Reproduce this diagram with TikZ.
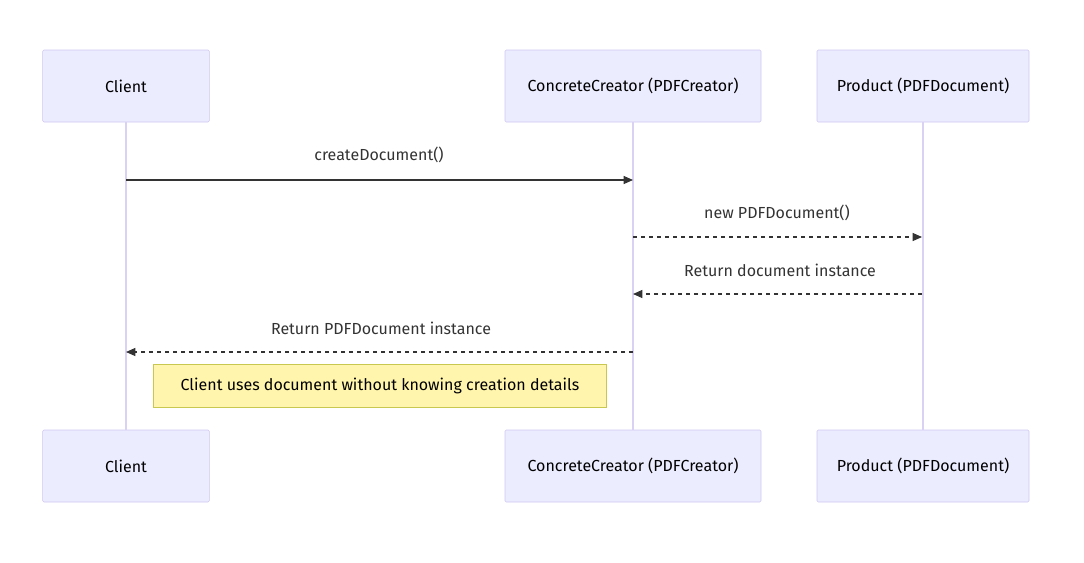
\documentclass[tikz,border=0pt]{standalone}
\usepackage{fontspec}
\setmainfont{Fira Sans}
\usetikzlibrary{arrows.meta,patterns}
\definecolor{actfill}{HTML}{ECECFF}
\definecolor{actline}{HTML}{CFC6F2}
\definecolor{lifeline}{HTML}{D9D2F5}
\definecolor{notefill}{HTML}{FFF5AD}
\definecolor{noteline}{HTML}{C8C850}
\definecolor{msgline}{HTML}{333333}
\tikzset{
	actor/.style={draw=actline, fill=actfill, minimum height=54pt, rounded corners=1pt, font=\fontsize{12}{14}\selectfont},
	life/.style={draw=lifeline, line width=1.5pt},
	msg/.style={draw=msgline, line width=0.8pt, -{Triangle[length=7pt,width=6pt]}},
	reply/.style={msg, dashed},
	lbl/.style={font=\fontsize{12}{14}\selectfont, text=msgline},
	note/.style={draw=noteline, fill=notefill, font=\fontsize{12}{14}\selectfont, minimum height=32pt}
}
\begin{document}
\begin{tikzpicture}[x=0.75pt, y=-0.75pt]
		\useasboundingbox (0,0) rectangle (1084,562);
		
		% participants
		\node[actor, minimum width=125pt] (ct) at (126,86) {Client};
		\node[actor, minimum width=192pt] (cc) at (633,86) {ConcreteCreator (PDFCreator)};
		\node[actor, minimum width=159pt] (pr) at (923,86) {Product (PDFDocument)};
		\node[actor, minimum width=125pt] (cb) at (126,466) {Client};
		\node[actor, minimum width=192pt] (ccb) at (633,466) {ConcreteCreator (PDFCreator)};
		\node[actor, minimum width=159pt] (prb) at (923,466) {Product (PDFDocument)};
		
		\draw[life] (ct) -- (cb);
		\draw[life] (cc) -- (ccb);
		\draw[life] (pr) -- (prb);
		
		% messages
		\coordinate (m1a) at (126,180); \coordinate (m1b) at (633,180);
		\coordinate (m2a) at (633,237); \coordinate (m2b) at (922,237);
		\coordinate (m3a) at (922,294); \coordinate (m3b) at (633,294);
		\coordinate (m4a) at (633,352); \coordinate (m4b) at (126,352);
		
		\draw[msg] (m1a) -- (m1b);
		\draw[reply] (m2a) -- (m2b);
		\draw[reply] (m3a) -- (m3b);
		\draw[reply] (m4a) -- (m4b);
		
		\node[lbl] (l1) at (379,155) {createDocument()};
		\node[lbl] (l2) at (777,213) {new PDFDocument()};
		\node[lbl] (l3) at (780,270) {Return document instance};
		\node[lbl] (l4) at (381,328) {Return PDFDocument instance};
		
		\node[note, minimum width=340pt] (nt) at (380,386) {Client uses document without knowing creation details};
	\end{tikzpicture}
\end{document}
